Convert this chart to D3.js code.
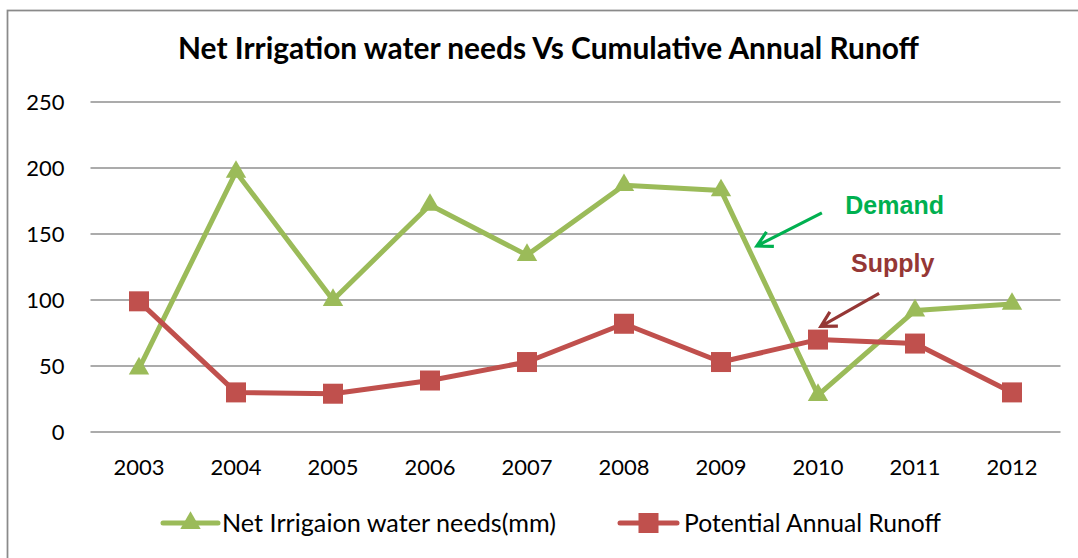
<!DOCTYPE html>
<html>
<head>
<meta charset="utf-8">
<script src="https://cdn.jsdelivr.net/npm/d3@7"></script>
<style>
  html, body { margin: 0; padding: 0; background: #fff; }
  svg { display: block; }
</style>
</head>
<body>
<svg id="chart" width="1078" height="558"></svg>
<script>
// ---- data ----
const years = ["2003","2004","2005","2006","2007","2008","2009","2010","2011","2012"];
const demand = [48, 197, 100, 172, 134, 187, 183, 28, 92, 97];   // Net Irrigaion water needs(mm)
const supply = [99, 30, 29, 39, 53, 82, 53, 70, 67, 30];         // Potential Annual Runoff
const yTicks = [0, 50, 100, 150, 200, 250];
const titleText = "Net Irrigation water needs Vs Cumulative Annual Runoff";
const seriesNames = ["Net Irrigaion water needs(mm)", "Potential Annual Runoff"];
// annotations in data space: [x index, value]
const demandLabel = [7.79, 165];
const demandArrow = [[7.04, 166], [6.37, 141]];
const supplyLabel = [7.77, 121];
const supplyArrow = [[7.63, 105], [7.03, 80]];

// ---- layout ----
const W = 1078, H = 558;
const plot = { left: 90.5, right: 1060.5, top: 102, bottom: 432 };
const green = "#9BBB59", red = "#C0504D";

const svg = d3.select("#chart");

const x = d3.scaleBand().domain(years).range([plot.left, plot.right]);
const y = d3.scaleLinear().domain([0, 250]).range([plot.bottom, plot.top]);
const xc = d => x(d) + x.bandwidth() / 2;
const xi = i => x(years[0]) + x.bandwidth() / 2 + i * x.step();

function fit(sel, target) {
  const w = sel.node().getComputedTextLength();
  const fs = parseFloat(sel.attr("font-size"));
  sel.attr("font-size", fs * target / w);
}

// chart border
svg.append("rect")
  .attr("x", 7.5).attr("y", 10.5).attr("width", 1200).attr("height", 700)
  .attr("fill", "none").attr("stroke", "#8a8a8a").attr("stroke-width", 1.75);

// title
const title = svg.append("text")
  .attr("x", 548.5).attr("y", 59)
  .attr("text-anchor", "middle")
  .attr("font-family", "Lato, 'Open Sans', sans-serif")
  .attr("font-weight", "bold")
  .attr("font-size", 24)
  .attr("fill", "#000")
  .text(titleText);
fit(title, 741);

// gridlines
svg.append("g").selectAll("line").data(yTicks).join("line")
  .attr("x1", plot.left).attr("x2", plot.right)
  .attr("y1", d => y(d)).attr("y2", d => y(d))
  .attr("stroke", "#8f8f8f").attr("stroke-width", 1.6);

// y axis labels
const yAxis = svg.append("g")
  .attr("transform", `translate(${plot.left - 26},0)`)
  .call(d3.axisLeft(y).tickValues(yTicks).tickSize(0).tickPadding(0));
yAxis.select(".domain").remove();
yAxis.selectAll("text")
  .attr("font-family", "Lato, sans-serif")
  .attr("font-size", 22)
  .attr("fill", "#000")
  .attr("dy", "0.36em");

// x axis labels
const xAxis = svg.append("g")
  .attr("transform", `translate(0,${plot.bottom})`)
  .call(d3.axisBottom(x).tickSize(0).tickPadding(0));
xAxis.select(".domain").remove();
xAxis.selectAll("text")
  .attr("font-family", "Lato, sans-serif")
  .attr("font-size", 22)
  .attr("fill", "#000")
  .attr("dy", "0")
  .attr("y", 43);

// fit tick label sizes
{
  const t = xAxis.select("text");
  const w = t.node().getComputedTextLength();
  const fs = 22 * 51 / w;
  xAxis.selectAll("text").attr("font-size", fs);
  yAxis.selectAll("text").attr("font-size", fs);
}

const line = d3.line().x((d, i) => xc(years[i])).y(d => y(d));

// demand series
svg.append("path").datum(demand)
  .attr("d", line).attr("fill", "none")
  .attr("stroke", green).attr("stroke-width", 5).attr("stroke-linejoin", "round");
const tri = d3.symbol().type(d3.symbolTriangle).size(180);
svg.append("g").selectAll("path").data(demand).join("path")
  .attr("d", tri)
  .attr("transform", (d, i) => `translate(${xc(years[i])},${y(d)})`)
  .attr("fill", green);

// supply series
svg.append("path").datum(supply)
  .attr("d", line).attr("fill", "none")
  .attr("stroke", red).attr("stroke-width", 5).attr("stroke-linejoin", "round");
svg.append("g").selectAll("rect").data(supply).join("rect")
  .attr("x", (d, i) => xc(years[i]) - 10)
  .attr("y", d => y(d) - 10)
  .attr("width", 20).attr("height", 20)
  .attr("fill", red);

// annotations
function arrow(pts, color) {
  const [a, b] = pts.map(p => [xi(p[0]), y(p[1])]);
  const ang = Math.atan2(a[1] - b[1], a[0] - b[0]);
  const L = 17, spread = 0.5;
  const p1 = [b[0] + L * Math.cos(ang + spread), b[1] + L * Math.sin(ang + spread)];
  const p2 = [b[0] + L * Math.cos(ang - spread), b[1] + L * Math.sin(ang - spread)];
  svg.append("path")
    .attr("d", `M${a}L${b}M${p1}L${b}L${p2}`)
    .attr("fill", "none").attr("stroke", color).attr("stroke-width", 3.2)
    .attr("stroke-linejoin", "miter").attr("stroke-linecap", "butt");
}
arrow(demandArrow, "#00B050");
arrow(supplyArrow, "#953735");

svg.append("text")
  .attr("x", xi(demandLabel[0])).attr("y", y(demandLabel[1]))
  .attr("text-anchor", "middle")
  .attr("font-family", "'Liberation Sans', Arial, sans-serif")
  .attr("font-weight", "bold").attr("font-size", 25)
  .attr("fill", "#00B050").text("Demand");
svg.append("text")
  .attr("x", xi(supplyLabel[0])).attr("y", y(supplyLabel[1]))
  .attr("text-anchor", "middle")
  .attr("font-family", "'Liberation Sans', Arial, sans-serif")
  .attr("font-weight", "bold").attr("font-size", 25)
  .attr("fill", "#953735").text("Supply");

// legend
const legendY = 523;
const legendItems = [
  { name: seriesNames[0], color: green, type: "tri", x0: 163, x1: 218, tx: 222, tw: 334 },
  { name: seriesNames[1], color: red, type: "sq", x0: 620, x1: 677, tx: 684, tw: 257 }
];
legendItems.forEach(it => {
  svg.append("line")
    .attr("x1", it.x0).attr("x2", it.x1).attr("y1", legendY).attr("y2", legendY)
    .attr("stroke", it.color).attr("stroke-width", 5).attr("stroke-linecap", "round");
  const cx = (it.x0 + it.x1) / 2;
  if (it.type === "tri") {
    svg.append("path").attr("d", tri)
      .attr("transform", `translate(${cx},${legendY})`).attr("fill", it.color);
  } else {
    svg.append("rect").attr("x", cx - 10).attr("y", legendY - 10)
      .attr("width", 20).attr("height", 20).attr("fill", it.color);
  }
  const t = svg.append("text")
    .attr("x", it.tx).attr("y", legendY)
    .attr("dy", "0.36em")
    .attr("font-family", "Lato, sans-serif")
    .attr("font-size", 22).attr("fill", "#000")
    .text(it.name);
  fit(t, it.tw);
});
</script>
</body>
</html>
